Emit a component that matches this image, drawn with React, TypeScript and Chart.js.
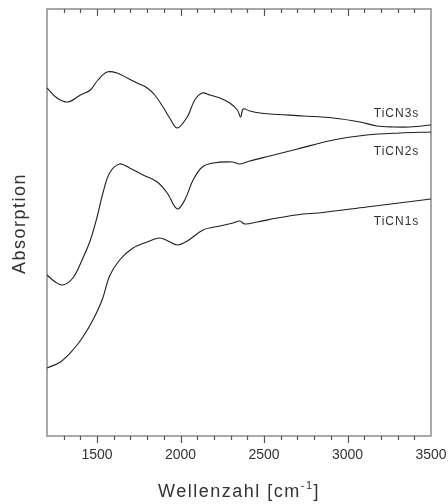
import React, { useEffect, useRef } from "react";
import { Chart, registerables } from "chart.js";

Chart.register(...registerables);

// Axis ranges and ticks (wavenumber in cm^-1, absorption in arbitrary units)
const xMin = 1200;
const xMax = 3500;
const yMin = 0;
const yMax = 4.27;
const majorTicks = [1500, 2000, 2500, 3000, 3500];
const minorStep = 100;

const seriesNames = ["TiCN3s", "TiCN2s", "TiCN1s"];

// TiCN3s spectrum (offset upward)
const tiCN3sX = [1200, 1260, 1325, 1400, 1460, 1505, 1560, 1620, 1680, 1740, 1800, 1845, 1895, 1935, 1980, 2040, 2085, 2130, 2175, 2235, 2295, 2340, 2360, 2375, 2415, 2475, 2535, 2735, 2915, 3075, 3175, 3275, 3375, 3500];
const tiCN3sY = [3.48, 3.38, 3.34, 3.41, 3.46, 3.56, 3.64, 3.63, 3.58, 3.53, 3.48, 3.41, 3.29, 3.18, 3.08, 3.19, 3.36, 3.43, 3.41, 3.38, 3.33, 3.26, 3.19, 3.27, 3.25, 3.23, 3.22, 3.20, 3.18, 3.14, 3.10, 3.09, 3.09, 3.11];

// TiCN2s spectrum
const tiCN2sX = [1200, 1250, 1295, 1355, 1410, 1460, 1500, 1535, 1575, 1635, 1695, 1775, 1860, 1920, 1980, 2025, 2075, 2130, 2195, 2310, 2355, 2415, 2535, 2700, 2915, 3115, 3315, 3500];
const tiCN2sY = [1.61, 1.54, 1.51, 1.58, 1.76, 1.96, 2.19, 2.43, 2.63, 2.72, 2.68, 2.61, 2.54, 2.43, 2.27, 2.36, 2.56, 2.69, 2.73, 2.74, 2.72, 2.75, 2.80, 2.87, 2.96, 3.01, 3.03, 3.04];

// TiCN1s spectrum
const tiCN1sX = [1200, 1280, 1355, 1415, 1475, 1530, 1575, 1635, 1715, 1800, 1875, 1925, 1980, 2040, 2135, 2235, 2315, 2355, 2385, 2460, 2580, 2735, 2825, 3115, 3500];
const tiCN1sY = [0.68, 0.74, 0.86, 0.99, 1.16, 1.36, 1.60, 1.76, 1.88, 1.94, 1.98, 1.95, 1.91, 1.95, 2.06, 2.10, 2.13, 2.15, 2.12, 2.14, 2.18, 2.22, 2.23, 2.29, 2.37];

// Curve annotations: right edge in wavenumber, vertical centre in absorption units
const labelX = 3430;
const labelY = [3.22, 2.84, 2.14];

const xTitle = "Wellenzahl [cm";
const xTitleSup = "-1";
const xTitleEnd = "]";
const yTitle = "Absorption";

const FONT = '"Liberation Sans", Arial, sans-serif';
const TEXT = "#333";

const toPoints = (xs: number[], ys: number[]) => xs.map((x, i) => ({ x, y: ys[i] }));

const decorations = {
  id: "decorations",
  beforeDatasetsDraw(chart: any) {
    const { ctx, chartArea: a, scales } = chart;
    const xs = scales.x;
    ctx.save();
    // frame
    ctx.strokeStyle = "#8c8c8c";
    ctx.lineWidth = 1.5;
    ctx.strokeRect(a.left, a.top, a.right - a.left, a.bottom - a.top);
    // tick marks: outward on the bottom, inward on the top
    ctx.strokeStyle = "#555";
    ctx.lineWidth = 1.2;
    for (let v = xMin + minorStep; v < xMax; v += minorStep) {
      const px = Math.round(xs.getPixelForValue(v)) + 0.5;
      const major = majorTicks.includes(v);
      const len = major ? 7 : 4;
      ctx.beginPath();
      ctx.moveTo(px, a.bottom);
      ctx.lineTo(px, a.bottom + len);
      ctx.moveTo(px, a.top);
      ctx.lineTo(px, a.top + len);
      ctx.stroke();
    }
    ctx.restore();
  },
  afterDraw(chart: any) {
    const { ctx, chartArea: a, scales } = chart;
    const xs = scales.x;
    const ys = scales.y;
    ctx.save();
    ctx.fillStyle = TEXT;
    (ctx as any).letterSpacing = "1px";

    // curve labels
    ctx.font = `12px ${FONT}`;
    ctx.textAlign = "right";
    ctx.textBaseline = "middle";
    seriesNames.forEach((name, i) => {
      ctx.fillText(name, xs.getPixelForValue(labelX), ys.getPixelForValue(labelY[i]));
    });

    // x axis title with superscript
    (ctx as any).letterSpacing = "1.5px";
    const big = `18px ${FONT}`;
    const small = `11px ${FONT}`;
    ctx.font = big;
    const w1 = ctx.measureText(xTitle).width;
    const w3 = ctx.measureText(xTitleEnd).width;
    ctx.font = small;
    const w2 = ctx.measureText(xTitleSup).width;
    const total = w1 + w2 + w3;
    let x0 = (a.left + a.right) / 2 - total / 2;
    const baseY = 497;
    ctx.textAlign = "left";
    ctx.textBaseline = "alphabetic";
    ctx.font = big;
    ctx.fillText(xTitle, x0, baseY);
    x0 += w1;
    ctx.font = small;
    ctx.fillText(xTitleSup, x0, baseY - 8);
    x0 += w2;
    ctx.font = big;
    ctx.fillText(xTitleEnd, x0, baseY);

    // y axis title
    ctx.translate(20, (a.top + a.bottom) / 2 + 1);
    ctx.rotate(-Math.PI / 2);
    ctx.textAlign = "center";
    ctx.textBaseline = "middle";
    ctx.font = big;
    ctx.fillText(yTitle, 0, 0);
    ctx.restore();
  },
};

export default function App() {
  const canvasRef = useRef<HTMLCanvasElement | null>(null);

  useEffect(() => {
    const canvas = canvasRef.current;
    if (!canvas) return;
    const line = (data: { x: number; y: number }[]) => ({
      data,
      borderColor: "#1e1e1e",
      borderWidth: 1.1,
      pointRadius: 0,
      fill: false,
      tension: 0.35,
    });
    const chart = new Chart(canvas, {
      type: "line",
      data: {
        datasets: [
          { label: seriesNames[0], ...line(toPoints(tiCN3sX, tiCN3sY)) },
          { label: seriesNames[1], ...line(toPoints(tiCN2sX, tiCN2sY)) },
          { label: seriesNames[2], ...line(toPoints(tiCN1sX, tiCN1sY)) },
        ],
      },
      options: {
        animation: false,
        responsive: false,
        events: [],
        layout: { padding: { top: 9, right: 17, left: 0, bottom: 0 } },
        plugins: { legend: { display: false }, tooltip: { enabled: false } },
        scales: {
          x: {
            type: "linear",
            min: xMin,
            max: xMax,
            afterBuildTicks: (scale: any) => {
              scale.ticks = majorTicks.map((value) => ({ value }));
            },
            afterFit: (scale: any) => {
              scale.height = 68;
              scale.paddingLeft = 0;
              scale.paddingRight = 0;
            },
            grid: { display: false, drawTicks: false },
            border: { display: false },
            ticks: {
              color: TEXT,
              font: { family: FONT, size: 14 },
              padding: 11,
              maxRotation: 0,
              autoSkip: false,
              callback: (v: any) => String(v),
            },
          },
          y: {
            type: "linear",
            min: yMin,
            max: yMax,
            afterFit: (scale: any) => {
              scale.width = 47;
              scale.paddingTop = 0;
              scale.paddingBottom = 0;
            },
            grid: { display: false, drawTicks: false },
            border: { display: false },
            ticks: { display: false },
          },
        },
      },
      plugins: [decorations],
    });
    return () => chart.destroy();
  }, []);

  return (
    <div style={{ position: "absolute", left: 0, top: 0, width: 448, height: 504, background: "#fff" }}>
      <canvas ref={canvasRef} width={448} height={504} />
    </div>
  );
}
